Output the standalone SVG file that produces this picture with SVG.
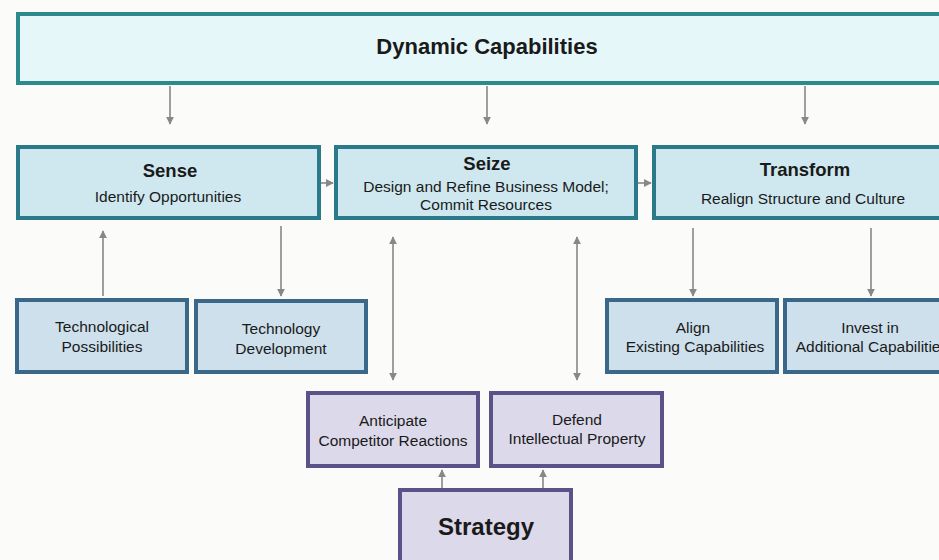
<svg xmlns="http://www.w3.org/2000/svg" width="939" height="560" viewBox="0 0 939 560">
<defs>
<marker id="ah" viewBox="0 0 10 10" refX="9" refY="5" markerWidth="8" markerHeight="8" markerUnits="userSpaceOnUse" orient="auto-start-reverse">
<path d="M0,0 L10,5 L0,10 z" fill="#888"/>
</marker>
<style>
.top{fill:#e6f7f9;stroke:#2c8a8c;stroke-width:4}
.mid{fill:#cfe8f0;stroke:#2a7a8a;stroke-width:4}
.blue{fill:#cde0ec;stroke:#3b6789;stroke-width:4}
.purp{fill:#dcd9ea;stroke:#5c5289;stroke-width:4}
.conn line{stroke:#888;stroke-width:1.6;fill:none}
text{font-family:"Liberation Sans",Arial,sans-serif;fill:#1a1a1a;text-anchor:middle}
.t{font-size:22px;font-weight:bold}
.h{font-size:18.5px;font-weight:bold}
.s{font-size:15.5px}
.big{font-size:24px;font-weight:bold}
</style>
</defs>
<rect width="939" height="560" fill="#fbfbfa"/>
<g id="dynamic">
<rect class="top" x="18" y="14" width="930" height="69"/>
<text class="t" x="487" y="54">Dynamic Capabilities</text>
</g>
<g id="sense">
<rect class="mid" x="18" y="147" width="301" height="71"/>
<text class="h" x="170" y="177">Sense</text>
<text class="s" x="168" y="202">Identify Opportunities</text>
</g>
<g id="seize">
<rect class="mid" x="336" y="147" width="300" height="71"/>
<text class="h" x="487" y="170">Seize</text>
<text class="s" x="486" y="192">Design and Refine Business Model;</text>
<text class="s" x="486" y="210">Commit Resources</text>
</g>
<g id="transform">
<rect class="mid" x="654" y="147" width="300" height="71"/>
<text class="h" x="805" y="176">Transform</text>
<text class="s" x="803" y="204">Realign Structure and Culture</text>
</g>
<g id="techpos">
<rect class="blue" x="17" y="300" width="170" height="72"/>
<text class="s" x="102" y="332">Technological</text>
<text class="s" x="102" y="352">Possibilities</text>
</g>
<g id="techdev">
<rect class="blue" x="196" y="301" width="170" height="71"/>
<text class="s" x="281" y="334">Technology</text>
<text class="s" x="281" y="354">Development</text>
</g>
<g id="align">
<rect class="blue" x="607" y="300" width="170" height="72"/>
<text class="s" x="693" y="333">Align</text>
<text class="s" x="695" y="352">Existing Capabilities</text>
</g>
<g id="invest">
<rect class="blue" x="785" y="300" width="170" height="72"/>
<text class="s" x="870" y="333">Invest in</text>
<text class="s" x="872" y="352">Additional Capabilities</text>
</g>
<g id="anticipate">
<rect class="purp" x="308" y="393" width="170" height="73"/>
<text class="s" x="393" y="426">Anticipate</text>
<text class="s" x="393" y="446">Competitor Reactions</text>
</g>
<g id="defend">
<rect class="purp" x="491" y="393" width="171" height="73"/>
<text class="s" x="577" y="425">Defend</text>
<text class="s" x="577" y="444">Intellectual Property</text>
</g>
<g id="strategy">
<rect class="purp" x="400" y="490" width="171" height="80"/>
<text class="big" x="486" y="535">Strategy</text>
</g>
<g id="connectors" class="conn">
<line x1="170" y1="86" x2="170" y2="124" marker-end="url(#ah)"/>
<line x1="487" y1="86" x2="487" y2="124" marker-end="url(#ah)"/>
<line x1="805" y1="86" x2="805" y2="124" marker-end="url(#ah)"/>
<line x1="321" y1="183" x2="333" y2="183" marker-end="url(#ah)"/>
<line x1="638" y1="183" x2="651" y2="183" marker-end="url(#ah)"/>
<line x1="103" y1="296" x2="103" y2="231" marker-end="url(#ah)"/>
<line x1="281" y1="226" x2="281" y2="296" marker-end="url(#ah)"/>
<line x1="693" y1="228" x2="693" y2="296" marker-end="url(#ah)"/>
<line x1="871" y1="228" x2="871" y2="296" marker-end="url(#ah)"/>
<line x1="393" y1="237" x2="393" y2="380" marker-start="url(#ah)" marker-end="url(#ah)"/>
<line x1="577" y1="237" x2="577" y2="380" marker-start="url(#ah)" marker-end="url(#ah)"/>
<line x1="442" y1="488" x2="442" y2="470" marker-end="url(#ah)"/>
<line x1="543" y1="488" x2="543" y2="470" marker-end="url(#ah)"/>
</g>
</svg>
